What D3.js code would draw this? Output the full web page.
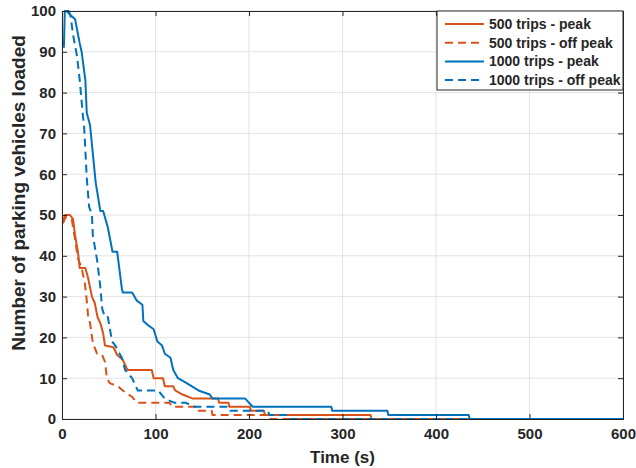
<!DOCTYPE html>
<html>
<head>
<meta charset="utf-8">
<script src="https://cdn.jsdelivr.net/npm/d3@7"></script>
<style>
  body { margin: 0; background: #fff; }
  svg { display: block; }
  text { font-family: "Liberation Sans", Arial, sans-serif; font-weight: bold; fill: #262626; }
</style>
</head>
<body>
<div id="chart"></div>
<script>
// time (s) and number of vehicles still loaded
const peak500T = [1, 3, 8.6, 11.8, 14, 17, 19, 25, 28, 32, 35, 38, 41, 44, 46, 55, 59, 65, 70, 96, 98, 108, 110, 119, 121, 129, 140, 167, 168, 178, 179, 201, 202, 216, 217, 330, 331, 600]
const peak500V = [48, 50, 50, 49, 45, 41, 37, 37, 34.5, 30, 28.5, 25, 23.5, 21, 18, 17.6, 15.7, 14.5, 12, 12, 10, 10, 8, 8, 7, 6, 5, 5, 4, 4, 3, 3, 2, 2, 1, 1, 0, 0]

const off500T = [1, 4, 10.4, 14, 17, 21, 24.6, 26.5, 28, 30, 33, 37.5, 43, 46, 48, 51, 60, 65, 71, 75, 80, 115, 118, 145, 146, 160, 161, 222, 223, 600]
const off500V = [48, 49.5, 49, 44, 39.4, 37, 33, 29, 25, 23.5, 18.6, 16, 15.7, 14, 10, 8.8, 8, 7, 6, 5.4, 4, 4, 3, 3, 2, 2, 1, 1, 0, 0]

const peak1000T = [2, 3, 7, 9, 14, 19, 21, 25, 26.5, 30, 33, 36, 41, 44, 49, 54, 59, 64, 65, 75, 80, 86, 87, 92, 98, 102, 107, 110, 116, 119, 124, 132, 139, 146, 158, 161, 196, 204, 288, 289, 348, 349, 435, 436, 600]
const peak1000V = [91, 100, 100, 99, 98, 92, 90, 83, 75, 72, 65, 58, 51, 51, 47, 41, 41, 32, 31, 31, 29, 28, 24, 23, 22, 19, 18, 16, 15, 12, 10, 9, 8, 7, 6, 5, 5, 3, 3, 2, 2, 1, 1, 0, 0]

const off1000T = [5, 9, 12, 16, 19, 22.5, 23.6, 26.5, 29, 32, 33, 37.5, 40.7, 43, 46, 49, 53.6, 57, 64, 67.5, 75, 81, 103, 110, 120, 132, 142, 178, 180, 220, 222, 241, 243, 600]
const off1000V = [100, 99, 94, 89, 83, 74, 72, 59, 52, 50, 45, 39, 33, 27, 25, 25, 19, 18, 15, 12, 10, 7, 7, 5, 4, 4, 3, 3, 2, 2, 1, 1, 0, 0]

const seriesNames = ['500 trips - peak', '500 trips - off peak', '1000 trips - peak', '1000 trips - off peak']
const xTicks = [0, 100, 200, 300, 400, 500, 600]
const yTicks = [0, 10, 20, 30, 40, 50, 60, 70, 80, 90, 100]

const orange = '#d95319'
const blue = '#0072bd'

const series = [
  { name: seriesNames[0], t: peak500T, v: peak500V, color: orange, dash: null },
  { name: seriesNames[1], t: off500T, v: off500V, color: orange, dash: '8,5' },
  { name: seriesNames[2], t: peak1000T, v: peak1000V, color: blue, dash: null },
  { name: seriesNames[3], t: off1000T, v: off1000V, color: blue, dash: '8,5' }
]

const width = 636
const height = 468
const margin = { top: 11, right: 13, bottom: 49, left: 62 }

const svg = d3.select('#chart').append('svg')
  .attr('width', width)
  .attr('height', height)

const x = d3.scaleLinear().domain([0, 600]).range([margin.left, width - margin.right])
const y = d3.scaleLinear().domain([0, 100]).range([height - margin.bottom, margin.top])

const x0 = x.range()[0], x1 = x.range()[1]
const y0 = y.range()[0], y1 = y.range()[1]

// grid
svg.append('g')
  .selectAll('line.gx')
  .data(xTicks)
  .join('line')
  .attr('x1', (d) => x(d)).attr('x2', (d) => x(d))
  .attr('y1', y0).attr('y2', y1)
  .attr('stroke', '#e3e3e3')
svg.append('g')
  .selectAll('line.gy')
  .data(yTicks)
  .join('line')
  .attr('x1', x0).attr('x2', x1)
  .attr('y1', (d) => y(d)).attr('y2', (d) => y(d))
  .attr('stroke', '#e3e3e3')

// lines
svg.append('clipPath').attr('id', 'clip')
  .append('rect').attr('x', x0).attr('y', y1 - 1).attr('width', x1 - x0).attr('height', y0 - y1 + 2)

const line = d3.line()
  .x((d) => x(d[0]))
  .y((d) => y(d[1]))

const plot = svg.append('g').attr('clip-path', 'url(#clip)')
for (let s of series) {
  plot.append('path')
    .datum(d3.zip(s.t, s.v))
    .attr('fill', 'none')
    .attr('stroke', s.color)
    .attr('stroke-width', 2)
    .attr('stroke-dasharray', s.dash)
    .attr('stroke-linejoin', 'round')
    .attr('d', line)
}

// axes, ticks inside, box on
const tickSize = 5
const fmt = d3.format('d')
const axisColor = '#262626'

const gx = svg.append('g').attr('transform', `translate(0,${y0})`)
  .call(d3.axisBottom(x).tickValues(xTicks).tickSize(-tickSize).tickPadding(9).tickFormat(fmt))
const gy = svg.append('g').attr('transform', `translate(${x0},0)`)
  .call(d3.axisLeft(y).tickValues(yTicks).tickSize(-tickSize).tickPadding(6).tickFormat(fmt))
const gt = svg.append('g').attr('transform', `translate(0,${y1})`)
  .call(d3.axisTop(x).tickValues(xTicks).tickSize(-tickSize).tickFormat(''))
const gr = svg.append('g').attr('transform', `translate(${x1},0)`)
  .call(d3.axisRight(y).tickValues(yTicks).tickSize(-tickSize).tickFormat(''))

for (let g of [gx, gy, gt, gr]) {
  g.select('.domain').attr('stroke', axisColor).attr('stroke-width', 1)
  g.selectAll('.tick line').attr('stroke', axisColor)
  g.selectAll('.tick text')
    .attr('fill', axisColor)
    .style('font-size', '15px')
    .style('font-family', '"Liberation Sans", Arial, sans-serif')
    .style('font-weight', 'bold')
}

svg.append('text')
  .attr('x', (x0 + x1) / 2)
  .attr('y', 463)
  .attr('text-anchor', 'middle')
  .style('font-size', '17px')
  .text('Time (s)')

svg.append('text')
  .attr('transform', 'translate(25,193) rotate(-90)')
  .attr('text-anchor', 'middle')
  .style('font-size', '19px')
  .text('Number of parking vehicles loaded')

// legend
const lg = svg.append('g')
const lgX = 437, lgY = y1, lgW = x1 - 437, lgH = 79
lg.append('rect')
  .attr('x', lgX).attr('y', lgY).attr('width', lgW).attr('height', lgH)
  .attr('fill', '#fff').attr('stroke', axisColor).attr('stroke-width', 1)

series.forEach((s, i) => {
  const cy = 24 + i * 18.7
  lg.append('line')
    .attr('x1', 445).attr('x2', 484)
    .attr('y1', cy).attr('y2', cy)
    .attr('stroke', s.color)
    .attr('stroke-width', 2)
    .attr('stroke-dasharray', s.dash)
  lg.append('text')
    .attr('x', 489)
    .attr('y', cy + 5)
    .style('font-size', '14px')
    .text(s.name)
})
</script>
</body>
</html>
